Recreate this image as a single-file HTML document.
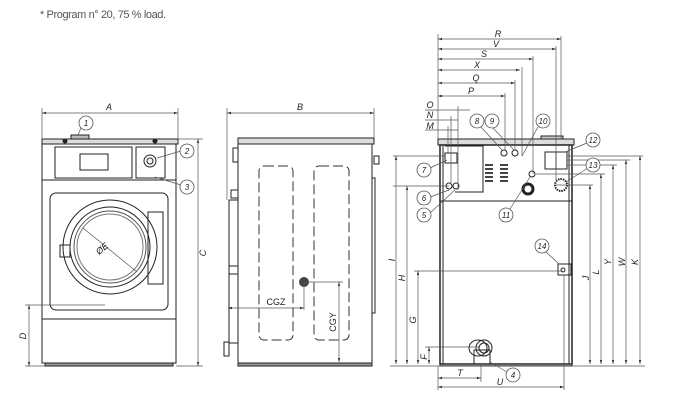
<!DOCTYPE html>
<html><head><meta charset="utf-8"><style>
html,body{margin:0;padding:0;background:#fff}
svg{display:block}
text{font-family:"Liberation Sans",sans-serif}
</style></head><body>
<svg width="680" height="403" viewBox="0 0 680 403" xmlns="http://www.w3.org/2000/svg">
<defs>
<marker id="a" viewBox="0 0 10 10" refX="10" refY="5" markerWidth="6" markerHeight="6" orient="auto-start-reverse"><path d="M0,2 L10,5 L0,8z" fill="#333"/></marker>
</defs>
<text x="40" y="18" font-size="11" fill="#555" letter-spacing="-0.4">* Program n° 20, 75 % load.</text>

<g fill="none" stroke="#222" stroke-width="1">
<!-- FRONT -->
<rect x="42" y="139" width="136" height="5" fill="#ddd"/>
<rect x="71" y="135" width="18" height="4" fill="#bbb"/>
<circle cx="65" cy="141" r="2" fill="#222"/><circle cx="155" cy="141" r="2" fill="#222"/>
<rect x="42" y="144" width="134" height="219"/>
<line x1="42" y1="180" x2="176" y2="180"/>
<rect x="55" y="147" width="77" height="31"/>
<rect x="80" y="154" width="28" height="16"/>
<rect x="136" y="147" width="29" height="31"/>
<circle cx="150" cy="161" r="6"/><circle cx="150" cy="161" r="3"/>
<rect x="50" y="193" width="118" height="117" rx="6"/>
<circle cx="110" cy="247" r="47"/><circle cx="110" cy="247" r="40"/><circle cx="110" cy="247" r="36" stroke="#555"/><circle cx="110" cy="247" r="33" stroke="#777"/>
<rect x="60" y="245" width="10" height="12"/>
<rect x="148" y="212" width="15" height="72"/>
<line x1="42" y1="319" x2="176" y2="319"/>
<rect x="45" y="363" width="128" height="3" fill="#999"/>
<line x1="83" y1="228" x2="137" y2="272" stroke="#555" stroke-width="0.7"/>
<!-- SIDE -->
<rect x="238" y="138" width="136" height="6" fill="#ddd"/>
<rect x="238" y="144" width="134" height="219"/>
<rect x="229" y="200" width="9" height="143"/>
<line x1="229" y1="266" x2="238" y2="266"/><line x1="229" y1="274" x2="238" y2="274"/>
<rect x="233" y="148" width="5" height="14"/><rect x="231" y="190" width="7" height="8"/>
<rect x="224" y="342" width="5" height="14"/>
<rect x="372" y="178" width="3" height="135"/>
<rect x="374" y="156" width="5" height="8"/>
<rect x="238" y="363" width="134" height="3" fill="#999"/>
<g stroke-dasharray="10,4" stroke="#333">
<rect x="259" y="166" width="34" height="174" rx="5"/>
<rect x="314" y="166" width="35" height="174" rx="5"/>
</g>
<!-- REAR -->
<rect x="541" y="136" width="22" height="3" fill="#ccc"/>
<rect x="438" y="139" width="136" height="6" fill="#ddd"/>
<rect x="440" y="145" width="132" height="219" stroke-width="1.5"/>
<line x1="443" y1="145" x2="443" y2="364"/><line x1="569" y1="145" x2="569" y2="364"/>
<line x1="440" y1="201" x2="572" y2="201"/>
<rect x="440" y="364" width="132" height="2" fill="#999"/>
<path d="M445,146 H483 V192 H455"/>
<rect x="445" y="153" width="12" height="10"/>
<circle cx="449" cy="186" r="3"/><circle cx="456" cy="186" r="3"/>
<circle cx="504" cy="153" r="3"/><circle cx="515" cy="153" r="3"/>
<rect x="545" y="152" width="22" height="17"/><line x1="556" y1="152" x2="556" y2="169"/>
<circle cx="532" cy="174" r="3"/>
<circle cx="528" cy="189" r="5" stroke-width="3"/>
<circle cx="561" cy="185" r="6" stroke-dasharray="1.5,1" stroke-width="2"/>
<rect x="558" y="264" width="13" height="11"/><circle cx="563" cy="270" r="2"/>
<ellipse cx="478" cy="348" rx="9" ry="8"/><circle cx="484" cy="348" r="8"/><circle cx="484" cy="348" r="5"/>
<rect x="474" y="350" width="16" height="14"/>
</g>
<g fill="#444">
<rect x="485" y="164" width="8" height="2"/><rect x="485" y="168" width="8" height="2"/><rect x="485" y="172" width="8" height="2"/><rect x="485" y="176" width="8" height="2"/><rect x="485" y="180" width="8" height="2"/>
<rect x="500" y="164" width="8" height="2"/><rect x="500" y="168" width="8" height="2"/><rect x="500" y="172" width="8" height="2"/><rect x="500" y="176" width="8" height="2"/><rect x="500" y="180" width="8" height="2"/>
<circle cx="304" cy="282" r="5"/>
</g>

<!-- dimension lines -->
<g stroke="#555" stroke-width="0.7" fill="none">
<line x1="42" y1="108" x2="42" y2="139"/><line x1="178" y1="108" x2="178" y2="139"/>
<line x1="42" y1="113" x2="178" y2="113" marker-start="url(#a)" marker-end="url(#a)"/>
<line x1="178" y1="139" x2="203" y2="139"/><line x1="176" y1="366" x2="203" y2="366"/>
<line x1="198" y1="139" x2="198" y2="366" marker-start="url(#a)" marker-end="url(#a)"/>
<line x1="25" y1="305" x2="105" y2="305"/><line x1="25" y1="366" x2="45" y2="366"/>
<line x1="29" y1="305" x2="29" y2="366" marker-start="url(#a)" marker-end="url(#a)"/>
<line x1="227" y1="108" x2="227" y2="200"/><line x1="374" y1="108" x2="374" y2="138"/>
<line x1="227" y1="113" x2="374" y2="113" marker-start="url(#a)" marker-end="url(#a)"/>
<line x1="228" y1="308" x2="304" y2="308" marker-start="url(#a)" marker-end="url(#a)"/>
<line x1="304" y1="282" x2="304" y2="310"/>
<line x1="304" y1="282" x2="343" y2="282"/>
<line x1="339" y1="282" x2="339" y2="362" marker-start="url(#a)" marker-end="url(#a)"/>
<line x1="438" y1="34" x2="438" y2="139"/>
<line x1="438" y1="39" x2="561" y2="39" marker-start="url(#a)" marker-end="url(#a)"/><line x1="561" y1="36" x2="561" y2="139"/>
<line x1="438" y1="49" x2="556" y2="49" marker-start="url(#a)" marker-end="url(#a)"/><line x1="556" y1="46" x2="556" y2="180"/>
<line x1="438" y1="59" x2="533" y2="59" marker-start="url(#a)" marker-end="url(#a)"/><line x1="533" y1="56" x2="533" y2="174"/>
<line x1="438" y1="70" x2="520" y2="70" marker-start="url(#a)" marker-end="url(#a)"/><line x1="522" y1="67" x2="522" y2="156"/>
<line x1="438" y1="83" x2="515" y2="83" marker-start="url(#a)" marker-end="url(#a)"/><line x1="515" y1="80" x2="515" y2="150"/>
<line x1="438" y1="96" x2="505" y2="96" marker-start="url(#a)" marker-end="url(#a)"/><line x1="505" y1="93" x2="505" y2="150"/>
<line x1="425" y1="110" x2="470" y2="110"/><line x1="458" y1="106" x2="458" y2="190"/>
<line x1="425" y1="120" x2="458" y2="120"/><line x1="451" y1="116" x2="451" y2="185"/>
<line x1="425" y1="130" x2="458" y2="130"/><line x1="448" y1="126" x2="448" y2="153"/>
<line x1="393" y1="156" x2="445" y2="156"/><line x1="393" y1="186" x2="449" y2="186"/>
<line x1="396" y1="156" x2="396" y2="364" marker-start="url(#a)" marker-end="url(#a)"/>
<line x1="407" y1="186" x2="407" y2="364" marker-start="url(#a)" marker-end="url(#a)"/>
<line x1="414" y1="271" x2="563" y2="271"/>
<line x1="418" y1="271" x2="418" y2="364" marker-start="url(#a)" marker-end="url(#a)"/>
<line x1="425" y1="347" x2="480" y2="347"/>
<line x1="429" y1="347" x2="429" y2="364" marker-start="url(#a)" marker-end="url(#a)"/>
<line x1="390" y1="366" x2="645" y2="366"/>
<line x1="438" y1="366" x2="438" y2="390"/><line x1="481" y1="364" x2="481" y2="382"/><line x1="564" y1="275" x2="564" y2="390"/>
<line x1="438" y1="378" x2="481" y2="378" marker-start="url(#a)" marker-end="url(#a)"/>
<line x1="438" y1="387" x2="564" y2="387" marker-start="url(#a)" marker-end="url(#a)"/>
<line x1="556" y1="185" x2="593" y2="185"/><line x1="536" y1="174" x2="605" y2="174"/>
<line x1="567" y1="160" x2="630" y2="160"/><line x1="567" y1="156" x2="643" y2="156"/>
<line x1="567" y1="165" x2="617" y2="165"/>
<line x1="590" y1="185" x2="590" y2="364" marker-start="url(#a)" marker-end="url(#a)"/>
<line x1="601" y1="174" x2="601" y2="364" marker-start="url(#a)" marker-end="url(#a)"/>
<line x1="613" y1="165" x2="613" y2="364" marker-start="url(#a)" marker-end="url(#a)"/>
<line x1="626" y1="160" x2="626" y2="364" marker-start="url(#a)" marker-end="url(#a)"/>
<line x1="640" y1="156" x2="640" y2="364" marker-start="url(#a)" marker-end="url(#a)"/>
<!-- leaders -->
<line x1="78" y1="135" x2="81" y2="128"/><line x1="157" y1="158" x2="181" y2="151"/><line x1="155" y1="177" x2="181" y2="185"/>
<line x1="447" y1="160" x2="430" y2="168"/><line x1="449" y1="190" x2="430" y2="197"/><line x1="455" y1="190" x2="430" y2="213"/>
<line x1="502" y1="150" x2="481" y2="127"/><line x1="514" y1="150" x2="492" y2="127"/><line x1="522" y1="156" x2="538" y2="127"/>
<line x1="565" y1="152" x2="587" y2="143"/><line x1="566" y1="182" x2="588" y2="168"/>
<line x1="530" y1="177" x2="510" y2="209"/><line x1="559" y1="264" x2="546" y2="252"/><line x1="490" y1="362" x2="507" y2="372"/>
</g>
<g fill="#fff" stroke="#555" stroke-width="0.8">
<circle cx="86" cy="123" r="7"/><circle cx="187" cy="151" r="7"/><circle cx="187" cy="187" r="7"/>
<circle cx="477" cy="121" r="7"/><circle cx="492" cy="121" r="7"/><circle cx="543" cy="121" r="7"/>
<circle cx="593" cy="140" r="7"/><circle cx="593" cy="165" r="7"/><circle cx="424" cy="170" r="7"/>
<circle cx="424" cy="198" r="7"/><circle cx="424" cy="215" r="7"/><circle cx="506" cy="215" r="7"/>
<circle cx="542" cy="246" r="7"/><circle cx="513" cy="375" r="7"/>
</g>
<g font-size="8" font-style="italic" fill="#222" text-anchor="middle">
<text x="86" y="126">1</text><text x="187" y="154">2</text><text x="187" y="190">3</text>
<text x="477" y="124">8</text><text x="492" y="124">9</text><text x="543" y="124">10</text>
<text x="593" y="143">12</text><text x="593" y="168">13</text><text x="424" y="173">7</text>
<text x="424" y="201">6</text><text x="424" y="218">5</text><text x="506" y="218">11</text>
<text x="542" y="249">14</text><text x="513" y="378">4</text>
</g>
<g font-size="9" font-style="italic" fill="#222" text-anchor="middle">
<text x="109" y="110">A</text><text x="300" y="110">B</text>
<text x="498" y="37">R</text><text x="496" y="47">V</text><text x="484" y="57">S</text><text x="477" y="68">X</text>
<text x="476" y="81">Q</text><text x="471" y="94">P</text>
<text x="430" y="108">O</text><text x="430" y="118">N</text><text x="430" y="129">M</text>
<text x="460" y="376">T</text><text x="500" y="385">U</text>
<text x="276" y="305" font-style="normal">CGZ</text>
<text transform="translate(336,322) rotate(-90)" font-style="normal">CGY</text>
<text transform="translate(206,253) rotate(-90)">C</text>
<text transform="translate(26,336) rotate(-90)">D</text>
<text transform="translate(104,251) rotate(-40)">ØE</text>
<text transform="translate(395,260) rotate(-90)">I</text>
<text transform="translate(405,278) rotate(-90)">H</text>
<text transform="translate(416,320) rotate(-90)">G</text>
<text transform="translate(427,357) rotate(-90)">F</text>
<text transform="translate(589,278) rotate(-90)">J</text>
<text transform="translate(599,272) rotate(-90)">L</text>
<text transform="translate(611,262) rotate(-90)">Y</text>
<text transform="translate(625,262) rotate(-90)">W</text>
<text transform="translate(638,262) rotate(-90)">K</text>
</g>
</svg>
</body></html>
